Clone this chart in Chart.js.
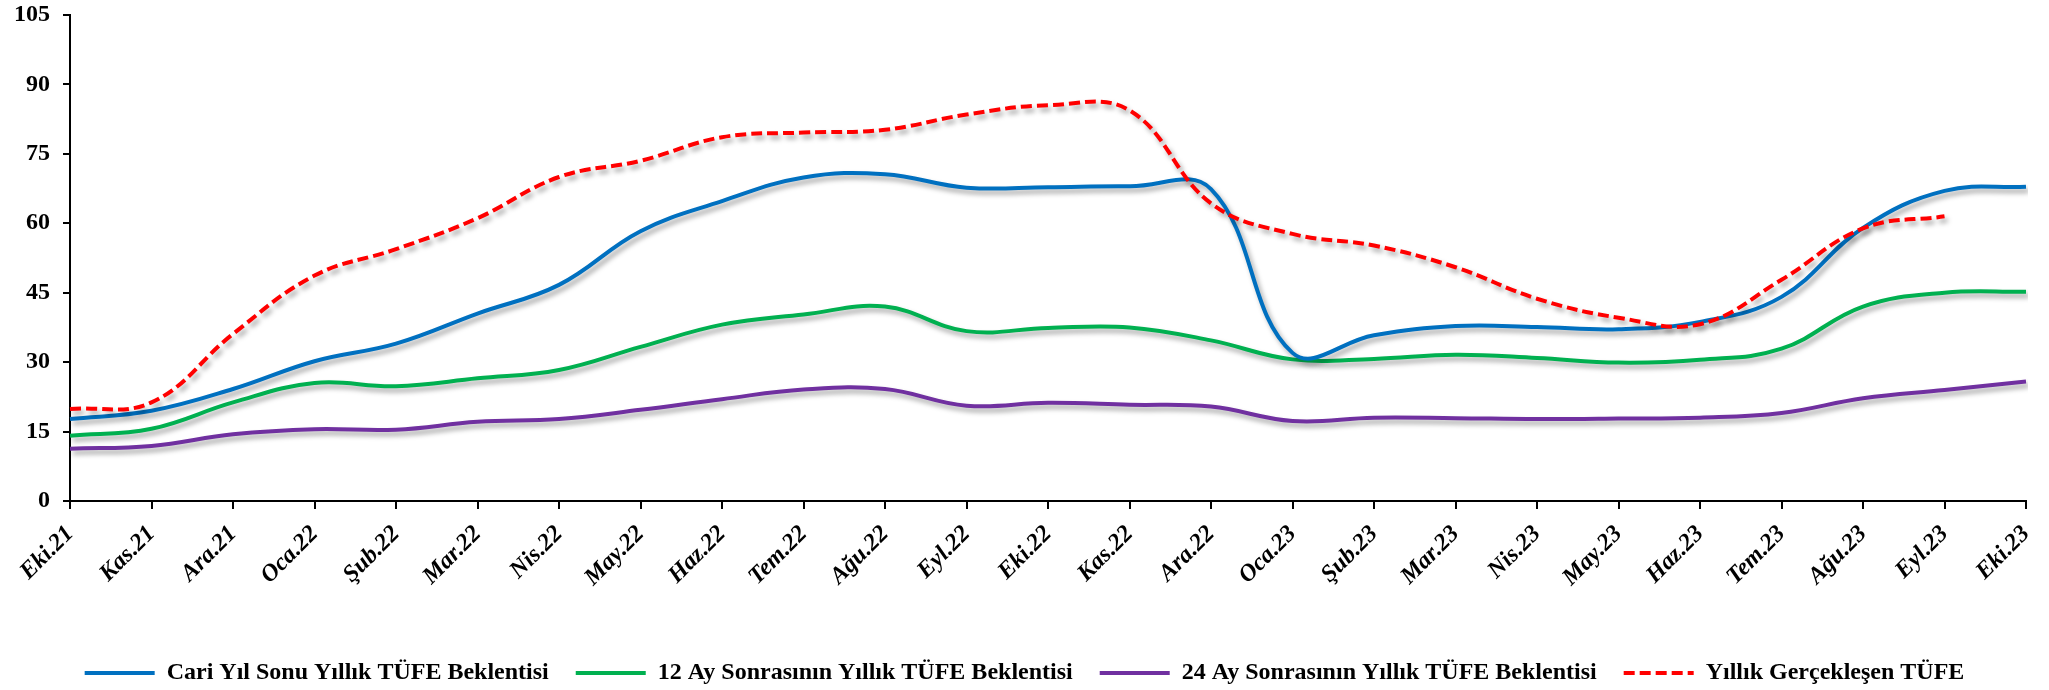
<!DOCTYPE html>
<html>
<head>
<meta charset="utf-8">
<script src="https://cdn.jsdelivr.net/npm/chart.js"></script>
<style>
  html, body { margin: 0; padding: 0; background: #ffffff; }
</style>
</head>
<body>
<canvas id="mycanvas" width="2049" height="690"></canvas>
<script>
var months = ["Eki.21", "Kas.21", "Ara.21", "Oca.22", "Şub.22", "Mar.22", "Nis.22", "May.22",
  "Haz.22", "Tem.22", "Ağu.22", "Eyl.22", "Eki.22", "Kas.22", "Ara.22", "Oca.23", "Şub.23",
  "Mar.23", "Nis.23", "May.23", "Haz.23", "Tem.23", "Ağu.23", "Eyl.23", "Eki.23"];

// Cari Yıl Sonu Yıllık TÜFE Beklentisi
var cariYil = [17.7, 19.5, 24.2, 30.2, 34.0, 40.5, 46.7, 58.3, 64.8, 69.9, 70.6, 67.7, 67.8,
  68.0, 67.4, 32.0, 35.8, 37.8, 37.6, 37.1, 38.7, 44.1, 59.0, 67.0, 67.9];

// 12 Ay Sonrasının Yıllık TÜFE Beklentisi
var ay12 = [14.1, 15.6, 21.3, 25.5, 24.8, 26.5, 28.3, 33.3, 38.1, 40.3, 42.0, 36.7, 37.4,
  37.5, 34.7, 30.6, 30.7, 31.6, 30.9, 29.9, 30.5, 32.9, 42.0, 45.0, 45.2];

// 24 Ay Sonrasının Yıllık TÜFE Beklentisi
var ay24 = [11.3, 11.9, 14.4, 15.5, 15.4, 17.1, 17.7, 19.7, 22.0, 24.1, 24.2, 20.6, 21.2,
  20.8, 20.4, 17.3, 18.0, 17.9, 17.7, 17.8, 18.0, 19.0, 22.2, 24.0, 25.8];

// Yıllık Gerçekleşen TÜFE
var gerceklesen = [19.9, 21.3, 36.1, 48.7, 54.4, 61.1, 70.0, 73.5, 78.6, 79.6, 80.2, 83.5, 85.5,
  84.4, 64.3, 57.7, 55.2, 50.5, 43.7, 39.6, 38.2, 47.8, 58.9, 61.5, null];

var yMin = 0, yMax = 105, yStep = 15;

var serifFont = "'Liberation Serif', 'Times New Roman', serif";

// soft grey shadow under every line, like the original
var shadowPlugin = {
  id: 'lineShadow',
  beforeDatasetDraw: function(chart) {
    var ctx = chart.ctx;
    ctx.save();
    ctx.shadowColor = "rgba(0, 0, 0, 0.35)";
    ctx.shadowBlur = 5;
    ctx.shadowOffsetX = 3;
    ctx.shadowOffsetY = 4;
  },
  afterDatasetDraw: function(chart) {
    chart.ctx.restore();
  }
};

var chartdata = {
  labels: months,
  datasets: [
    {
      label: "Cari Yıl Sonu Yıllık TÜFE Beklentisi",
      data: cariYil,
      borderColor: "#0070C0",
      backgroundColor: "#0070C0",
      borderWidth: 4,
      fill: false,
      tension: 0.4,
      pointRadius: 0
    },
    {
      label: "12 Ay Sonrasının Yıllık TÜFE Beklentisi",
      data: ay12,
      borderColor: "#00B050",
      backgroundColor: "#00B050",
      borderWidth: 4,
      fill: false,
      tension: 0.4,
      pointRadius: 0
    },
    {
      label: "24 Ay Sonrasının Yıllık TÜFE Beklentisi",
      data: ay24,
      borderColor: "#7030A0",
      backgroundColor: "#7030A0",
      borderWidth: 4,
      fill: false,
      tension: 0.4,
      pointRadius: 0
    },
    {
      label: "Yıllık Gerçekleşen TÜFE",
      data: gerceklesen,
      borderColor: "#FF0000",
      backgroundColor: "#FF0000",
      borderWidth: 4,
      borderDash: [11, 5],
      fill: false,
      tension: 0.4,
      pointRadius: 0,
      order: -1
    }
  ]
};

var ctx = document.getElementById("mycanvas");

var LineGraph = new Chart(ctx, {
  type: 'line',
  data: chartdata,
  plugins: [shadowPlugin],
  options: {
    responsive: false,
    animation: false,
    devicePixelRatio: 1,
    layout: {
      padding: { top: 15, right: 0, left: 0, bottom: -5 }
    },
    plugins: {
      tooltip: { enabled: false },
      legend: {
        position: 'bottom',
        labels: {
          usePointStyle: true,
          pointStyle: 'line',
          pointStyleWidth: 70,
          padding: 27,
          color: "#000000",
          font: { family: serifFont, size: 24, weight: 'bold' },
          sort: function(a, b) { return a.datasetIndex - b.datasetIndex; },
          generateLabels: function(chart) {
            var items = Chart.defaults.plugins.legend.labels.generateLabels(chart);
            items.forEach(function(item) {
              var ds = chart.data.datasets[item.datasetIndex];
              item.lineDash = ds.borderDash || [];
              item.lineWidth = 4;
              item.strokeStyle = ds.borderColor;
            });
            return items;
          }
        }
      }
    },
    scales: {
      x: {
        offset: false,
        grid: {
          display: true,
          drawOnChartArea: false,
          drawTicks: true,
          tickLength: 8,
          color: "#000000",
          lineWidth: 2
        },
        border: { display: true, color: "#000000", width: 2 },
        ticks: {
          autoSkip: false,
          minRotation: 45,
          maxRotation: 45,
          padding: 11,
          color: "#000000",
          font: { family: serifFont, size: 24, weight: 'bold', style: 'italic' }
        },
        afterFit: function(scale) {
          scale.height = 133;
          scale.paddingLeft = 0;
          scale.paddingRight = 23;
        }
      },
      y: {
        min: yMin,
        max: yMax,
        grid: {
          display: true,
          drawOnChartArea: false,
          drawTicks: true,
          tickLength: 7,
          color: "#000000",
          lineWidth: 2
        },
        border: { display: true, color: "#000000", width: 2 },
        ticks: {
          stepSize: yStep,
          padding: 13,
          color: "#000000",
          font: { family: serifFont, size: 24, weight: 'bold' }
        },
        afterFit: function(scale) {
          scale.width = 70;
          scale.paddingTop = 0;
          scale.paddingBottom = 0;
        }
      }
    }
  }
});
</script>
</body>
</html>
